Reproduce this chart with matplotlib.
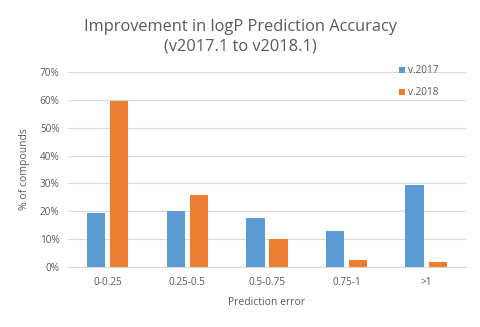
import matplotlib
matplotlib.use("Agg")
import matplotlib.pyplot as plt
import numpy as np
from matplotlib.ticker import PercentFormatter

categories = ["0-0.25", "0.25-0.5", "0.5-0.75", "0.75-1", ">1"]
v2017 = [19.4, 20.1, 17.6, 12.9, 29.4]
v2018 = [59.5, 25.8, 10.0, 2.5, 1.9]
series_names = ["v.2017", "v.2018"]

plt.rcParams['font.family'] = ['Open Sans', 'DejaVu Sans']
gray = "#595959"
fig = plt.figure(figsize=(4.8, 3.27), dpi=100)
ax = fig.add_axes([0.1417, 0.1835, 0.829, 0.5965])

x = np.arange(len(categories))
w = 0.23
ax.bar(x - 0.145, v2017, w, color="#5b9bd5", label=series_names[0], zorder=3)
ax.bar(x + 0.145, v2018, w, color="#ed7d31", label=series_names[1], zorder=3)

ax.set_xlim(-0.5, len(categories) - 0.5)
ax.set_ylim(0, 70)
ax.set_yticks(np.arange(0, 71, 10))
ax.yaxis.set_major_formatter(PercentFormatter(decimals=0))
ax.set_xticks(x)
ax.set_xticklabels(categories)
ax.grid(axis="y", color="#d9d9d9", linewidth=0.8, zorder=0)
for s in ["top", "right", "left"]:
    ax.spines[s].set_visible(False)
ax.spines["bottom"].set_color("#d9d9d9")
ax.tick_params(axis="both", length=0, colors=gray, labelsize=7.2)
ax.tick_params(axis="x", pad=7)
ax.tick_params(axis="y", pad=6)

ax.set_xlabel("Prediction error", color=gray, fontsize=7.5, labelpad=7)
ax.set_ylabel("% of compounds", color=gray, fontsize=7.5, labelpad=7)

fig.text(0.5, 0.888, "Improvement in logP Prediction Accuracy\n(v2017.1 to v2018.1)",
         ha="center", va="center", color=gray, fontsize=11.8, linespacing=1.3)

leg = ax.legend(loc="upper left", bbox_to_anchor=(0.808, 1.08), frameon=False,
                handlelength=0.6, handleheight=0.6, handletextpad=0.3,
                labelspacing=1.1, fontsize=7.2)
for t in leg.get_texts():
    t.set_color(gray)

fig.savefig("out.png", dpi=100)
